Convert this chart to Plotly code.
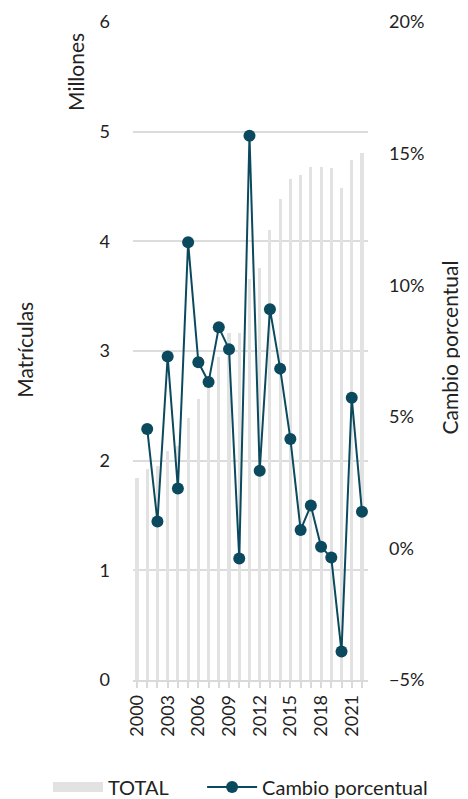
import plotly.graph_objects as go

years = list(range(2000, 2023))
total_millones = [1.846, 1.926, 1.950, 2.090, 2.135, 2.390, 2.558, 2.720, 2.948, 3.168,
                  3.161, 3.657, 3.761, 4.107, 4.386, 4.571, 4.602, 4.679, 4.679, 4.665,
                  4.484, 4.738, 4.808]
cambio_years = list(range(2001, 2023))
cambio_pct = [4.54, 1.02, 7.29, 2.28, 11.63, 7.07, 6.32, 8.40, 7.57, -0.38,
              15.68, 2.95, 9.09, 6.83, 4.16, 0.70, 1.63, 0.06, -0.35, -3.92,
              5.72, 1.39]
tick_years = [2000, 2003, 2006, 2009, 2012, 2015, 2018, 2021]

FONT = "Lato"
TXT = "#222222"
BAR = "#e2e2e2"
LINE = "#0b4a5e"

fig = go.Figure()
fig.add_trace(go.Bar(x=years, y=total_millones, width=0.3, marker_color=BAR,
                     marker_line_width=0, name="TOTAL", showlegend=False, yaxis="y"))
fig.add_trace(go.Scatter(x=[None], y=[None], mode="lines", name="TOTAL",
                         line=dict(color=BAR, width=12), yaxis="y", legend="legend"))
fig.add_trace(go.Scatter(x=cambio_years, y=cambio_pct, mode="lines+markers",
                         name="Cambio porcentual", yaxis="y2", legend="legend2",
                         line=dict(color=LINE, width=2),
                         marker=dict(color=LINE, size=12), cliponaxis=False))

fig.update_layout(
    width=460, height=791,
    margin=dict(l=125, r=100, t=14, b=119, autoexpand=False),
    paper_bgcolor="white", plot_bgcolor="white",
    font=dict(family=FONT, size=18, color=TXT),
    bargap=0,
    xaxis=dict(range=[1999.61, 2022.59], tickmode="array", tickvals=tick_years,
               ticktext=[str(y) for y in tick_years], tickangle=-90,
               showgrid=False, showline=True, linecolor="#d9d9d9", linewidth=1.5,
               zeroline=False, tickfont=dict(size=18, color=TXT), automargin=False,
               ticks="outside", ticklen=6, tickcolor="#d9d9d9", tickwidth=1.5,
               minor=dict(tickmode="linear", dtick=1, tick0=2000, ticks="outside",
                          ticklen=6, tickcolor="#d9d9d9", tickwidth=1.5)),
    yaxis=dict(range=[0, 6], dtick=1, showgrid=True, gridcolor="#dcdcdc", gridwidth=1.5,
               zeroline=False, showline=False, ticks="", ticklabelstandoff=22,
               automargin=False, tickfont=dict(size=18, color=TXT)),
    yaxis2=dict(range=[-5, 20], dtick=5, ticksuffix="%", overlaying="y", side="right",
                showgrid=False, zeroline=False, showline=False, ticks="",
                automargin=False, ticklabelstandoff=20, tickfont=dict(size=18, color=TXT)),
    legend=dict(orientation="h", x=-0.362, xanchor="left", y=-0.1626, yanchor="middle",
                font=dict(size=20, color=TXT), itemwidth=50),
    legend2=dict(orientation="h", x=0.294, xanchor="left", y=-0.1626, yanchor="middle",
                 font=dict(size=20, color=TXT), itemwidth=50),
    annotations=[
        dict(text="Millones", xref="paper", yref="paper", x=-0.247, y=0.924,
             xanchor="center", yanchor="middle", textangle=-90, showarrow=False,
             font=dict(size=21, color=TXT)),
        dict(text="Matrículas", xref="paper", yref="paper", x=-0.465, y=0.5015,
             xanchor="center", yanchor="middle", textangle=-90, showarrow=False,
             font=dict(size=21, color=TXT)),
        dict(text="Cambio porcentual", xref="paper", yref="paper", x=1.348, y=0.505,
             xanchor="center", yanchor="middle", textangle=-90, showarrow=False,
             font=dict(size=21, color=TXT)),
    ],
)

fig.write_html("out.html")
